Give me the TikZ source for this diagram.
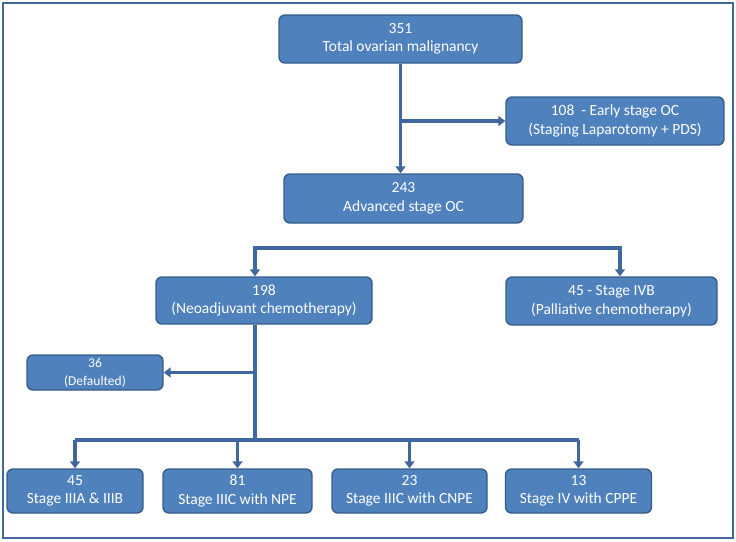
\documentclass[tikz,border=0pt]{standalone}
\usepackage{fontspec}
\setmainfont{Carlito}
\usetikzlibrary{positioning, arrows.meta}
\definecolor{bFill}{HTML}{4F81BD}
\definecolor{bEdge}{HTML}{385D8A}
\definecolor{aLine}{HTML}{41689C}
\tikzset{
  stagebox/.style={draw=bEdge, line width=1.4pt, fill=bFill, rounded corners=6pt, text=white,
    align=center, inner sep=0pt, font=\fontsize{15.5}{18.5}\selectfont},
  flow/.style={draw=aLine, line width=3.2pt, -{Triangle[length=7pt,width=10pt]}},
  bar/.style={draw=aLine, line width=3.2pt}
}

\begin{document}
\begin{tikzpicture}[x=1pt, y=-1pt]
      \useasboundingbox (0,0) rectangle (736,541);
      \draw[aLine, line width=2pt] (2.5,2.5) rectangle (733,538);
      % boxes
      \node[stagebox, minimum width=243pt, minimum height=48pt] (total) at (400.5,39) {351\\Total ovarian malignancy};
      \node[stagebox, minimum width=218pt, minimum height=48pt] (early) at (615,121) {108~~- Early stage OC\\(Staging Laparotomy + PDS)};
      \node[stagebox, minimum width=239pt, minimum height=49pt] (adv) at (403.5,198.5) {243\\Advanced stage OC};
      \node[stagebox, minimum width=216pt, minimum height=47pt] (neo) at (264,300.5) {198\\(Neoadjuvant chemotherapy)};
      \node[stagebox, minimum width=211pt, minimum height=48pt] (palli) at (611.5,301) {45 - Stage IVB\\(Palliative chemotherapy)};
      \node[stagebox, minimum width=136pt, minimum height=35pt, font=\fontsize{13.5}{18}\selectfont] (dflt) at (95,372.5) {36\\(Defaulted)};
      \foreach \n/\x/\w/\t in {s1/75/136/{45\\Stage IIIA \& IIIB}, s2/237.5/149/{81\\Stage IIIC with NPE},
        s3/409.5/155/{23\\Stage IIIC with CNPE}, s4/578.5/146/{13\\Stage IV with CPPE}} {
        \node[stagebox, minimum width=\w pt, minimum height=44pt] (\n) at (\x,491) {\t};
      }
      % connectors
      \coordinate (lbar) at (255,248);
      \coordinate (rbar) at (620,248);
      \coordinate (bbar) at (255,440);
      \draw[flow] (total.south) -- (total.south |- adv.north);
      \draw[flow] (total.south |- early.west) -- (early.west);
      \draw[flow, {Triangle[length=7pt,width=10pt]}-{Triangle[length=7pt,width=10pt]}]
        (lbar |- neo.north) -- (lbar) -- (rbar) -- (rbar |- palli.north);
      \draw[bar, line width=4.4pt] (lbar |- neo.south) -- (bbar);
      \draw[flow] (lbar |- dflt.east) -- (dflt.east);
      \draw[bar] (s1.north |- bbar) -- (s4.north |- bbar);
      \foreach \n in {s1,s2,s3,s4} \draw[flow] (\n.north |- bbar) -- (\n.north);
    \end{tikzpicture}
\end{document}
